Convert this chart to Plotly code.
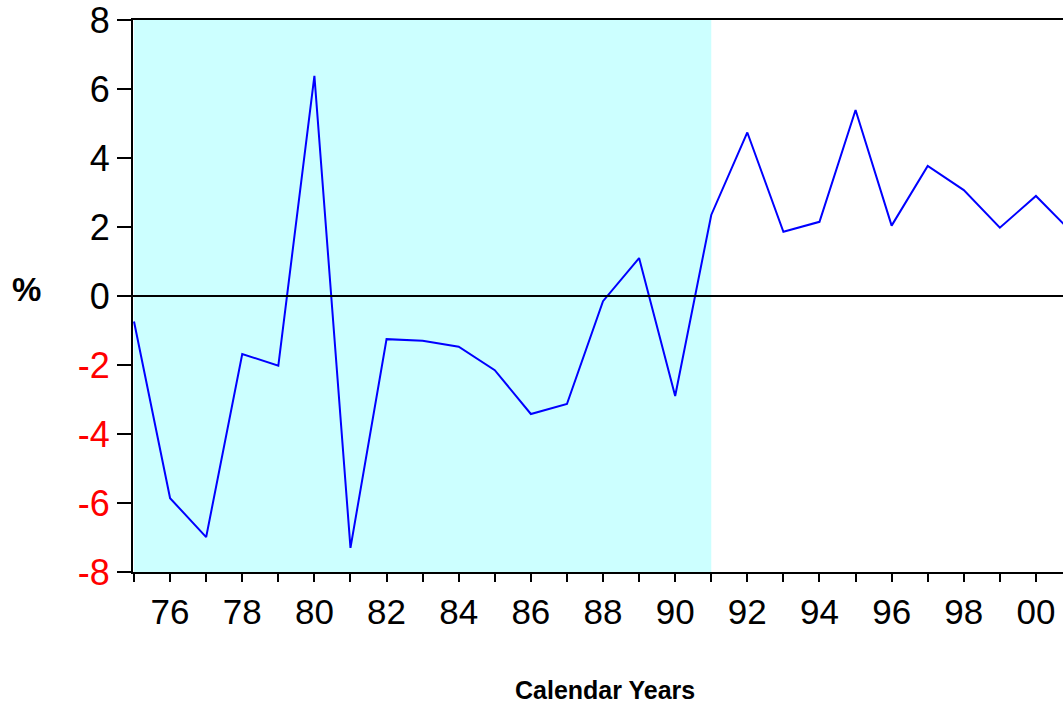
import plotly.graph_objects as go

years = list(range(1975, 2002))
values = [-0.74, -5.86, -6.99, -1.68, -2.02, 6.38, -7.30, -1.25, -1.30, -1.47,
          -2.15, -3.42, -3.13, -0.15, 1.10, -2.90, 2.35, 4.74, 1.86, 2.15,
          5.39, 2.04, 3.77, 3.07, 1.98, 2.90, 1.84]
shade_start, shade_end = 1975, 1991
y_ticks = [8, 6, 4, 2, 0, -2, -4, -6, -8]
x_tick_years = list(range(1975, 2002))
x_tick_text = [("%02d" % (y % 100)) if y % 2 == 0 else "" for y in x_tick_years]

y_tick_text = [('<span style="color:#FF0000">%d</span>' % v) if v < 0 else str(v) for v in y_ticks]

font = "Liberation Sans, Arial, sans-serif"

fig = go.Figure()
fig.add_shape(type="rect", xref="x", yref="y", x0=shade_start, x1=shade_end,
              y0=-8, y1=8, fillcolor="#CCFFFF", line=dict(width=0), layer="below")
fig.add_shape(type="line", xref="paper", yref="y", x0=0, x1=1, y0=0, y1=0,
              line=dict(color="black", width=2))
fig.add_trace(go.Scatter(x=years, y=values, mode="lines",
                         line=dict(color="#0000FF", width=2), showlegend=False))

fig.update_layout(
    width=1063, height=710,
    margin=dict(l=133, r=0, t=20, b=138),
    paper_bgcolor="white", plot_bgcolor="white",
    font=dict(family=font, color="black"),
    xaxis=dict(range=[1974.972, 2000.75], tickmode="array", tickvals=x_tick_years,
               ticktext=x_tick_text, ticks="outside", ticklen=8, tickwidth=2,
               tickcolor="black", showline=True, linecolor="black", linewidth=2,
               mirror=True, showgrid=False, zeroline=False, ticklabeloverflow="allow",
               tickfont=dict(size=35, family=font, color="black")),
    yaxis=dict(range=[-8, 8], tickmode="array", tickvals=y_ticks, ticktext=y_tick_text,
               ticks="outside", ticklen=14, tickwidth=2, tickcolor="black",
               showline=True, linecolor="black", linewidth=2, showgrid=False,
               zeroline=False, ticklabeloverflow="allow",
               tickfont=dict(size=36, family=font, color="black")),
    annotations=[
        dict(text="<b>%</b>", xref="paper", yref="y", x=-0.114, y=0.2,
             xanchor="center", yanchor="middle", showarrow=False,
             font=dict(size=33, family=font, color="black")),
        dict(text="<b>Calendar Years</b>", xref="paper", yref="paper", x=0.507, y=-0.214,
             xanchor="center", yanchor="middle", showarrow=False,
             font=dict(size=25, family=font, color="black")),
    ],
)
fig.write_html("out.html", config={"displayModeBar": False},
               post_script="document.body.style.margin='0';document.body.style.overflow='hidden';")
